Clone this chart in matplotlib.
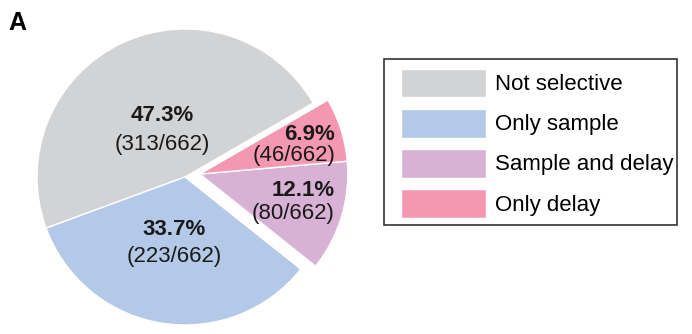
import matplotlib

matplotlib.use("Agg")

import matplotlib.pyplot as plt
from matplotlib.patches import Rectangle

plt.rcParams["font.family"] = ["Liberation Sans", "DejaVu Sans"]

# Neuron counts per selectivity class
categories = ["Not selective", "Only sample", "Sample and delay", "Only delay"]
counts = [313, 223, 80, 46]
colors = ["#d2d3d5", "#b4c9e8", "#d8b2d4", "#f497b0"]

# Label anchor relative to each wedge centre (data units, radius = 1), line gap, alignment
label_xy = [(-0.155, 0.32), (-0.075, -0.446), (0.912, -0.186), (0.914, 0.195)]
label_gap = [0.196, 0.176, 0.155, 0.14]
label_ha = ["center", "center", "right", "right"]
# The two small classes are pulled out together as one group
group_shift = (0.10, 0.02)

W, H = 692, 334
R_PX = 148.0
CX, CY = 185.0, 157.0  # pie centre in pixels from bottom-left

fig = plt.figure(figsize=(W / 100, H / 100), dpi=100)
ax = fig.add_axes([0, 0, 1, 1])

total = sum(counts)
wedges, _ = ax.pie(
    counts, colors=colors, startangle=30, counterclock=True, radius=1.0,
    wedgeprops={"edgecolor": "white", "linewidth": 1.0},
)
for w in wedges[2:]:
    w.set_center(group_shift)

ax.set_xlim(-CX / R_PX, (W - CX) / R_PX)
ax.set_ylim(-CY / R_PX, (H - CY) / R_PX)
ax.set_aspect("auto")
ax.axis("off")

for w, n, (lx, ly), gap, ha in zip(wedges, counts, label_xy, label_gap, label_ha):
    cx, cy = w.center
    ax.text(cx + lx, cy + ly + gap / 2, f"{100 * n / total:.1f}%", ha=ha, va="center",
            fontsize=16, fontweight="bold", color="#1a1a1a")
    ax.text(cx + lx, cy + ly - gap / 2, f"({n}/{total})", ha=ha, va="center",
            fontsize=16, color="#1a1a1a")

# Legend without its own frame; frame drawn separately to match spacing
leg = fig.legend(
    wedges, categories, loc="upper left",
    bbox_to_anchor=(401 / W, 1 - 68.5 / H), bbox_transform=fig.transFigure,
    frameon=False, borderpad=0, borderaxespad=0, fontsize=16,
    handlelength=3.83, handleheight=1.63, handletextpad=0.4, labelspacing=0.5,
)
for h in leg.legend_handles:
    h.set_edgecolor("white")
fig.patches.append(Rectangle(
    (384 / W, 1 - 225 / H), (677 - 384) / W, (225 - 59) / H,
    transform=fig.transFigure, fill=False, edgecolor="#333333", linewidth=1.2,
))

fig.text(8 / W, 1 - 30 / H, "A", fontsize=18, fontweight="bold", va="baseline")

fig.savefig("out.png", dpi=100)
